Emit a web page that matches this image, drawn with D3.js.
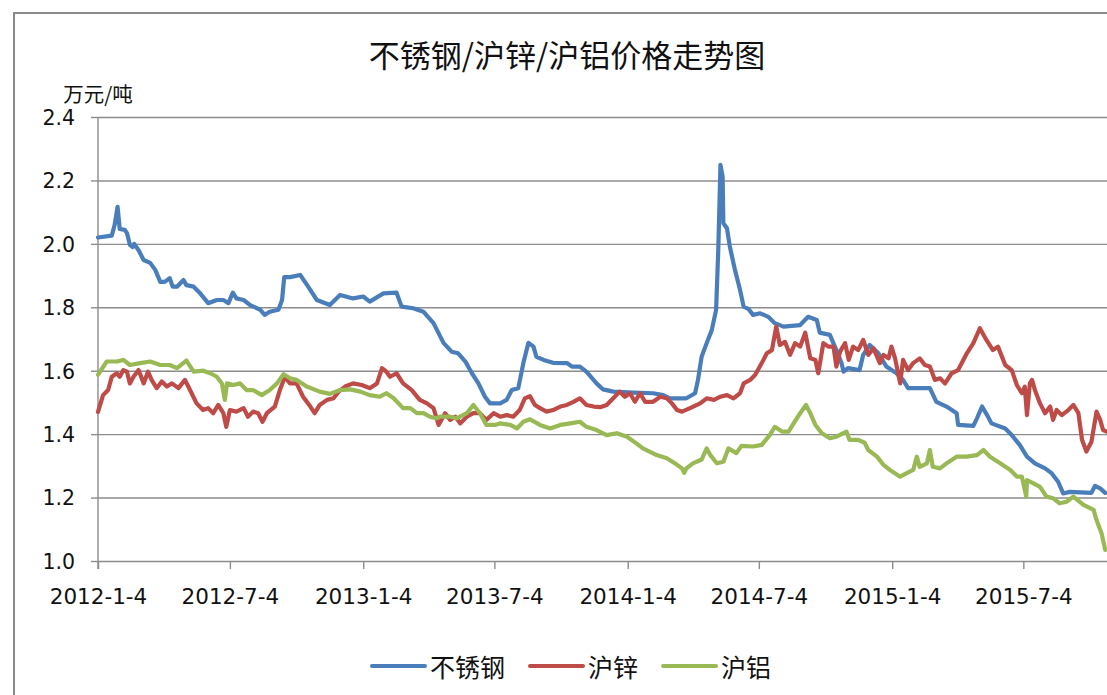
<!DOCTYPE html>
<html><head><meta charset="utf-8">
<script src="https://cdn.jsdelivr.net/npm/d3@7"></script>
<style>
body{margin:0;background:#fff;}
svg{display:block;}
</style>
</head><body>
<svg id="chart" width="1107" height="695"></svg>
<script>
const chartTitle = "不锈钢/沪锌/沪铝价格走势图";
const yUnit = "万元/吨";
const seriesNames = ["不锈钢", "沪锌", "沪铝"];
const seriesColors = ["#4A7EBB", "#BE4B48", "#98B954"];
const yTicks = [1.0, 1.2, 1.4, 1.6, 1.8, 2.0, 2.2, 2.4];
const xTickDates = ["2012-01-04","2012-07-04","2013-01-04","2013-07-04","2014-01-04","2014-07-04","2015-01-04","2015-07-04"];
const xDomain = ["2012-01-04", "2015-11-01"];

const steel = [
["2012-01-04",2.02],["2012-01-23",2.026],["2012-01-27",2.06],["2012-01-31",2.117],["2012-02-03",2.047],["2012-02-10",2.044],
["2012-02-13",2.034],["2012-02-17",1.997],["2012-02-21",1.99],["2012-02-23",2.0],["2012-02-29",1.98],["2012-03-07",1.949],
["2012-03-16",1.94],["2012-03-23",1.918],["2012-03-30",1.88],["2012-04-05",1.88],["2012-04-12",1.892],["2012-04-16",1.865],
["2012-04-22",1.865],["2012-05-01",1.886],["2012-05-05",1.87],["2012-05-15",1.865],["2012-05-24",1.844],["2012-06-04",1.813],
["2012-06-16",1.823],["2012-06-25",1.823],["2012-07-02",1.813],["2012-07-08",1.846],["2012-07-13",1.828],["2012-07-23",1.823],
["2012-08-01",1.807],["2012-08-15",1.792],["2012-08-21",1.776],["2012-08-28",1.786],["2012-09-09",1.792],["2012-09-14",1.823],
["2012-09-17",1.895],["2012-09-25",1.895],["2012-10-09",1.902],["2012-10-20",1.865],["2012-11-01",1.823],["2012-11-19",1.807],
["2012-12-03",1.839],["2012-12-21",1.828],["2013-01-04",1.834],["2013-01-13",1.818],["2013-02-01",1.844],["2013-02-19",1.846],
["2013-02-26",1.802],["2013-03-14",1.797],["2013-03-28",1.786],["2013-04-11",1.75],["2013-04-25",1.687],["2013-05-06",1.66],
["2013-05-15",1.655],["2013-05-25",1.629],["2013-06-03",1.592],["2013-06-12",1.56],["2013-06-21",1.518],["2013-06-28",1.497],
["2013-07-12",1.497],["2013-07-21",1.508],["2013-07-28",1.539],["2013-08-06",1.545],["2013-08-13",1.624],["2013-08-20",1.688],
["2013-08-27",1.676],["2013-08-31",1.644],["2013-09-10",1.634],["2013-09-23",1.625],["2013-10-12",1.624],["2013-10-19",1.613],
["2013-10-30",1.613],["2013-11-08",1.597],["2013-11-22",1.56],["2013-12-01",1.541],["2013-12-15",1.534],["2014-01-12",1.531],
["2014-02-08",1.529],["2014-02-22",1.523],["2014-03-03",1.513],["2014-03-26",1.513],["2014-04-07",1.529],["2014-04-11",1.571],
["2014-04-16",1.644],["2014-04-23",1.687],["2014-04-30",1.728],["2014-05-06",1.792],["2014-05-09",1.981],["2014-05-12",2.249],
["2014-05-15",2.212],["2014-05-16",2.065],["2014-05-21",2.049],["2014-05-25",1.991],["2014-06-01",1.918],["2014-06-08",1.855],
["2014-06-13",1.802],["2014-06-20",1.794],["2014-06-26",1.776],["2014-07-06",1.781],["2014-07-17",1.77],["2014-07-26",1.75],
["2014-08-07",1.739],["2014-08-30",1.744],["2014-09-10",1.77],["2014-09-22",1.76],["2014-09-26",1.72],["2014-10-10",1.713],
["2014-10-19",1.665],["2014-10-26",1.624],["2014-10-29",1.597],["2014-11-04",1.608],["2014-11-20",1.602],["2014-11-25",1.65],
["2014-12-04",1.681],["2014-12-16",1.655],["2014-12-27",1.613],["2015-01-10",1.592],["2015-01-19",1.571],["2015-01-26",1.545],
["2015-02-25",1.545],["2015-03-06",1.502],["2015-03-20",1.487],["2015-04-03",1.466],["2015-04-05",1.429],["2015-04-26",1.426],
["2015-05-01",1.45],["2015-05-08",1.487],["2015-05-15",1.46],["2015-05-21",1.434],["2015-06-09",1.418],["2015-06-18",1.397],
["2015-06-29",1.366],["2015-07-09",1.329],["2015-07-20",1.308],["2015-08-03",1.292],["2015-08-12",1.277],["2015-08-21",1.25],
["2015-08-28",1.213],["2015-09-06",1.218],["2015-10-06",1.215],["2015-10-11",1.237],["2015-10-18",1.229],["2015-10-25",1.215]
];

const zinc = [
["2012-01-04",1.47],["2012-01-11",1.523],["2012-01-18",1.539],["2012-01-23",1.581],["2012-01-30",1.592],["2012-02-03",1.581],
["2012-02-08",1.602],["2012-02-13",1.597],["2012-02-17",1.56],["2012-02-22",1.581],["2012-02-29",1.602],["2012-03-07",1.56],
["2012-03-13",1.597],["2012-03-18",1.571],["2012-03-25",1.545],["2012-04-01",1.566],["2012-04-08",1.55],["2012-04-15",1.56],
["2012-04-24",1.545],["2012-05-03",1.571],["2012-05-10",1.539],["2012-05-19",1.497],["2012-05-28",1.476],["2012-06-04",1.482],
["2012-06-11",1.466],["2012-06-18",1.492],["2012-06-25",1.466],["2012-06-29",1.423],["2012-07-04",1.476],["2012-07-13",1.471],
["2012-07-23",1.482],["2012-07-29",1.455],["2012-08-05",1.471],["2012-08-12",1.466],["2012-08-18",1.439],["2012-08-24",1.466],
["2012-09-04",1.487],["2012-09-11",1.539],["2012-09-18",1.581],["2012-09-25",1.56],["2012-10-04",1.56],["2012-10-13",1.518],
["2012-10-23",1.487],["2012-10-29",1.466],["2012-11-05",1.492],["2012-11-15",1.508],["2012-11-24",1.513],["2012-12-01",1.534],
["2012-12-10",1.55],["2012-12-21",1.56],["2013-01-02",1.555],["2013-01-13",1.545],["2013-01-23",1.56],["2013-01-30",1.608],
["2013-02-05",1.597],["2013-02-10",1.581],["2013-02-19",1.592],["2013-02-28",1.56],["2013-03-12",1.539],["2013-03-23",1.508],
["2013-04-02",1.497],["2013-04-11",1.482],["2013-04-18",1.429],["2013-04-27",1.466],["2013-05-04",1.445],["2013-05-11",1.455],
["2013-05-18",1.434],["2013-05-27",1.455],["2013-06-05",1.466],["2013-06-14",1.466],["2013-06-23",1.445],["2013-07-03",1.466],
["2013-07-12",1.455],["2013-07-21",1.46],["2013-07-30",1.455],["2013-08-08",1.476],["2013-08-15",1.513],["2013-08-22",1.52],
["2013-08-29",1.492],["2013-09-05",1.482],["2013-09-14",1.471],["2013-09-23",1.476],["2013-10-03",1.487],["2013-10-12",1.492],
["2013-10-21",1.502],["2013-10-30",1.513],["2013-11-08",1.492],["2013-11-18",1.487],["2013-11-27",1.485],["2013-12-06",1.492],
["2013-12-15",1.513],["2013-12-24",1.534],["2013-12-31",1.518],["2014-01-07",1.529],["2014-01-14",1.502],["2014-01-21",1.529],
["2014-01-28",1.502],["2014-02-08",1.502],["2014-02-18",1.518],["2014-02-27",1.513],["2014-03-06",1.497],["2014-03-13",1.476],
["2014-03-20",1.471],["2014-03-31",1.482],["2014-04-14",1.497],["2014-04-23",1.513],["2014-05-03",1.508],["2014-05-12",1.518],
["2014-05-21",1.523],["2014-05-30",1.513],["2014-06-08",1.529],["2014-06-13",1.56],["2014-06-22",1.571],["2014-06-29",1.587],
["2014-07-08",1.624],["2014-07-15",1.655],["2014-07-22",1.665],["2014-07-28",1.739],["2014-08-02",1.681],["2014-08-09",1.691],
["2014-08-16",1.65],["2014-08-23",1.687],["2014-08-30",1.676],["2014-09-06",1.72],["2014-09-13",1.639],["2014-09-20",1.634],
["2014-09-24",1.592],["2014-10-01",1.687],["2014-10-08",1.676],["2014-10-15",1.676],["2014-10-19",1.613],["2014-10-24",1.66],
["2014-10-31",1.687],["2014-11-05",1.634],["2014-11-11",1.676],["2014-11-18",1.665],["2014-11-25",1.697],["2014-12-02",1.65],
["2014-12-09",1.671],["2014-12-18",1.624],["2014-12-23",1.65],["2014-12-30",1.639],["2015-01-03",1.676],["2015-01-08",1.639],
["2015-01-15",1.56],["2015-01-19",1.634],["2015-01-26",1.602],["2015-02-02",1.624],["2015-02-11",1.639],["2015-02-18",1.618],
["2015-02-25",1.613],["2015-03-04",1.571],["2015-03-11",1.576],["2015-03-18",1.56],["2015-03-27",1.592],["2015-04-05",1.602],
["2015-04-17",1.655],["2015-04-26",1.687],["2015-05-05",1.734],["2015-05-14",1.697],["2015-05-23",1.665],["2015-05-30",1.676],
["2015-06-09",1.618],["2015-06-18",1.602],["2015-06-25",1.555],["2015-07-02",1.529],["2015-07-06",1.55],["2015-07-09",1.46],
["2015-07-13",1.56],["2015-07-16",1.571],["2015-07-20",1.539],["2015-07-27",1.497],["2015-08-03",1.466],["2015-08-10",1.487],
["2015-08-14",1.445],["2015-08-19",1.476],["2015-08-26",1.46],["2015-09-04",1.476],["2015-09-11",1.492],["2015-09-18",1.466],
["2015-09-23",1.382],["2015-09-29",1.345],["2015-10-06",1.376],["2015-10-13",1.471],["2015-10-18",1.445],["2015-10-22",1.413],
["2015-10-27",1.408]
];

const aluminium = [
["2012-01-04",1.587],["2012-01-16",1.629],["2012-01-30",1.629],["2012-02-08",1.634],["2012-02-17",1.618],["2012-03-02",1.624],
["2012-03-16",1.629],["2012-03-30",1.618],["2012-04-12",1.618],["2012-04-22",1.608],["2012-05-05",1.632],["2012-05-15",1.597],
["2012-05-28",1.6],["2012-06-07",1.592],["2012-06-16",1.581],["2012-06-23",1.56],["2012-06-27",1.508],["2012-06-30",1.56],
["2012-07-09",1.555],["2012-07-18",1.56],["2012-07-27",1.539],["2012-08-05",1.539],["2012-08-17",1.523],["2012-08-28",1.539],
["2012-09-07",1.56],["2012-09-16",1.589],["2012-09-25",1.576],["2012-10-04",1.571],["2012-10-18",1.55],["2012-11-05",1.534],
["2012-11-19",1.527],["2012-12-03",1.539],["2012-12-17",1.541],["2012-12-31",1.534],["2013-01-13",1.523],["2013-01-27",1.518],
["2013-02-05",1.529],["2013-02-15",1.513],["2013-02-28",1.482],["2013-03-10",1.482],["2013-03-19",1.466],["2013-03-28",1.466],
["2013-04-06",1.455],["2013-04-15",1.45],["2013-04-20",1.455],["2013-05-04",1.455],["2013-05-13",1.45],["2013-05-27",1.466],
["2013-06-05",1.492],["2013-06-14",1.466],["2013-06-23",1.429],["2013-07-05",1.429],["2013-07-12",1.434],["2013-07-26",1.429],
["2013-08-04",1.418],["2013-08-13",1.439],["2013-08-22",1.447],["2013-09-05",1.429],["2013-09-19",1.418],["2013-10-03",1.429],
["2013-10-17",1.434],["2013-10-30",1.439],["2013-11-08",1.423],["2013-11-22",1.413],["2013-12-06",1.397],["2013-12-20",1.403],
["2014-01-03",1.392],["2014-01-16",1.371],["2014-01-25",1.355],["2014-02-13",1.334],["2014-02-27",1.324],["2014-03-10",1.308],
["2014-03-20",1.292],["2014-03-23",1.278],["2014-03-26",1.292],["2014-04-04",1.308],["2014-04-16",1.32],["2014-04-23",1.355],
["2014-04-28",1.334],["2014-05-07",1.308],["2014-05-16",1.313],["2014-05-23",1.355],["2014-06-03",1.34],["2014-06-10",1.363],
["2014-06-26",1.361],["2014-07-08",1.366],["2014-07-19",1.397],["2014-07-26",1.423],["2014-08-05",1.408],["2014-08-14",1.408],
["2014-08-21",1.434],["2014-08-30",1.466],["2014-09-07",1.492],["2014-09-13",1.466],["2014-09-20",1.429],["2014-09-29",1.403],
["2014-10-10",1.387],["2014-10-19",1.392],["2014-11-02",1.408],["2014-11-06",1.382],["2014-11-18",1.382],["2014-11-27",1.373],
["2014-12-02",1.35],["2014-12-14",1.329],["2014-12-23",1.303],["2015-01-01",1.287],["2015-01-15",1.266],["2015-01-24",1.277],
["2015-02-02",1.287],["2015-02-07",1.329],["2015-02-11",1.297],["2015-02-21",1.308],["2015-02-25",1.35],["2015-03-01",1.297],
["2015-03-11",1.292],["2015-03-20",1.308],["2015-04-03",1.329],["2015-04-17",1.329],["2015-05-01",1.334],["2015-05-10",1.35],
["2015-05-19",1.329],["2015-06-02",1.308],["2015-06-16",1.287],["2015-06-25",1.266],["2015-07-02",1.266],["2015-07-08",1.203],
["2015-07-09",1.255],["2015-07-18",1.245],["2015-07-27",1.234],["2015-08-05",1.203],["2015-08-14",1.198],["2015-08-23",1.182],
["2015-09-02",1.187],["2015-09-11",1.203],["2015-09-25",1.177],["2015-10-09",1.161],["2015-10-13",1.129],["2015-10-20",1.087],
["2015-10-25",1.035]
];

const seriesData = [steel, zinc, aluminium];

const parse = d3.utcParse("%Y-%m-%d");
const svg = d3.select("#chart");
const W = 1107, H = 695;
const plot = {left: 98, top: 117, right: 1110.3, bottom: 561};
const gridColor = "#8c8c8c";
const textColor = "#111";
const numFont = "'DejaVu Sans', sans-serif";
const cjkFont = "'Noto Sans CJK SC', 'Noto Sans', sans-serif";

svg.append("rect").attr("width", W).attr("height", H).attr("fill", "#fff");
// chart area border
svg.append("rect").attr("x", 14).attr("y", 13).attr("width", 1200).attr("height", 800)
  .attr("fill", "none").attr("stroke", "#8a8a8a").attr("stroke-width", 2);

const x = d3.scaleUtc().domain(xDomain.map(parse)).range([plot.left, plot.right]);
const y = d3.scaleLinear().domain([yTicks[0], yTicks[yTicks.length - 1]]).range([plot.bottom, plot.top]);

// gridlines
const grid = svg.append("g").attr("transform", `translate(${plot.left},0)`)
  .call(d3.axisLeft(y).tickValues(yTicks.slice(1)).tickSize(-(plot.right - plot.left)).tickFormat(""));
grid.select(".domain").remove();
grid.selectAll("line").attr("stroke", gridColor).attr("stroke-width", 1.4);

// y axis
const yAxis = svg.append("g").attr("transform", `translate(${plot.left},0)`)
  .call(d3.axisLeft(y).tickValues(yTicks).tickFormat(d3.format(".1f")).tickSize(7).tickSizeOuter(0));
yAxis.select(".domain").attr("stroke", gridColor).attr("stroke-width", 1.4)
  .attr("d", `M0,${plot.top}V${plot.bottom + 8}`);
yAxis.selectAll(".tick line").attr("stroke", gridColor).attr("stroke-width", 1.4);
yAxis.selectAll(".tick text").attr("x", -23).attr("dy", "0.36em")
  .attr("fill", textColor).style("font-family", numFont).style("font-size", "20.5px");

// x axis
const xAxis = svg.append("g").attr("transform", `translate(0,${plot.bottom})`)
  .call(d3.axisBottom(x).tickValues(xTickDates.map(parse)).tickFormat(d3.utcFormat("%Y-%-m-%-d")).tickSize(8).tickSizeOuter(0));
xAxis.select(".domain").attr("stroke", gridColor).attr("stroke-width", 1.4);
xAxis.selectAll(".tick line").attr("stroke", gridColor).attr("stroke-width", 1.4);
xAxis.selectAll(".tick text").attr("y", 35).attr("dy", "0.36em")
  .attr("fill", textColor).style("font-family", numFont).style("font-size", "21.5px");

// lines
const line = d3.line().x(d => x(parse(d[0]))).y(d => y(d[1]));
seriesData.forEach((data, i) => {
  svg.append("path").datum(data).attr("d", line)
    .attr("fill", "none").attr("stroke", seriesColors[i]).attr("stroke-width", 4.2)
    .attr("stroke-linejoin", "round").attr("stroke-linecap", "round");
});

// title
svg.append("text").attr("x", 567).attr("y", 53).attr("text-anchor", "middle").attr("dominant-baseline", "central")
  .attr("fill", textColor).style("font-family", cjkFont).style("font-size", "31px").text(chartTitle);

// y unit label
svg.append("text").attr("x", 98).attr("y", 93).attr("text-anchor", "middle").attr("dominant-baseline", "central")
  .attr("fill", textColor).style("font-family", cjkFont).style("font-size", "20.5px").text(yUnit);

// legend
const legend = svg.append("g");
let lx = 372;
const ly = 666;
seriesNames.forEach((name, i) => {
  legend.append("line").attr("x1", lx).attr("x2", lx + 53).attr("y1", ly).attr("y2", ly)
    .attr("stroke", seriesColors[i]).attr("stroke-width", 4).attr("stroke-linecap", "round");
  const t = legend.append("text").attr("x", lx + 58).attr("y", ly).attr("dominant-baseline", "central")
    .attr("fill", textColor).style("font-family", cjkFont).style("font-size", "25px").text(name);
  lx += 58 + t.node().getComputedTextLength() + 25;
});
</script>
</body></html>
